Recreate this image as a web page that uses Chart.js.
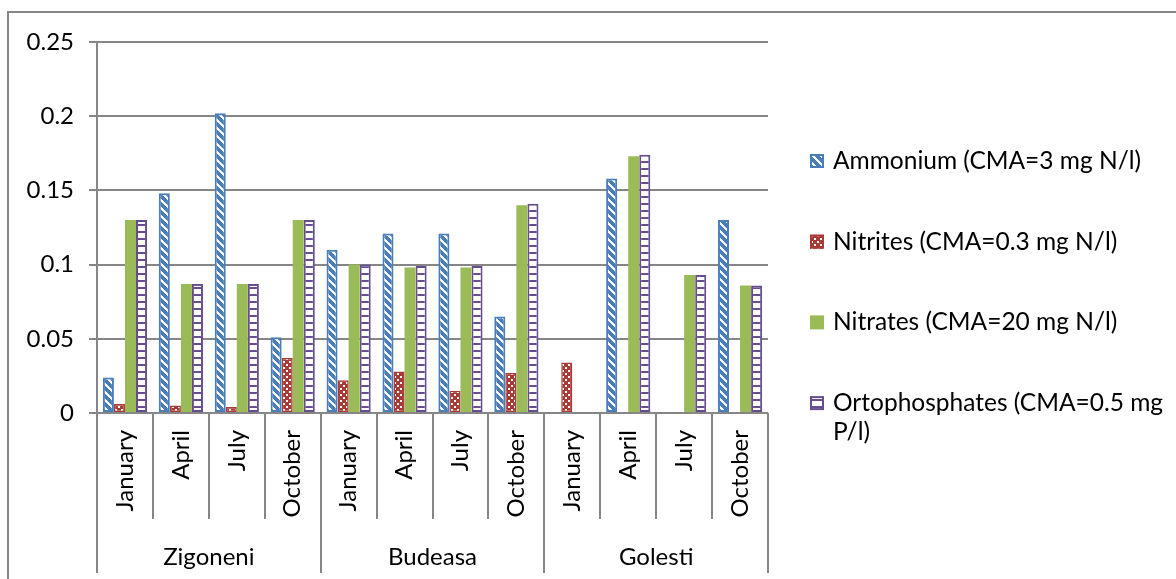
<!DOCTYPE html>
<html>
<head>
<meta charset="utf-8">
<script src="https://cdn.jsdelivr.net/npm/chart.js@4/dist/chart.umd.min.js"></script>
<style>
  html, body { margin: 0; padding: 0; background: #fff; }
  #wrap { width: 1176px; height: 579px; position: relative; }
</style>
</head>
<body>
<div id="wrap"><canvas id="c" width="1176" height="579"></canvas></div>
<script>
// Sampling months, repeated for each station
const months = ['January', 'April', 'July', 'October',
                'January', 'April', 'July', 'October',
                'January', 'April', 'July', 'October'];
const stations = ['Zigoneni', 'Budeasa', 'Golesti'];
const monthsPerStation = 4;

// Concentrations (mg/l); null = not detected
const ammonium = [0.024, 0.148, 0.202, 0.051, 0.110, 0.121, 0.121, 0.065, null, 0.158, null, 0.130];
const nitrites = [0.006, 0.005, 0.004, 0.037, 0.022, 0.028, 0.015, 0.027, 0.034, null, null, null];
const nitrates = [0.130, 0.087, 0.087, 0.130, 0.100, 0.098, 0.098, 0.140, null, 0.173, 0.093, 0.086];
const ortho    = [0.130, 0.087, 0.087, 0.130, 0.100, 0.099, 0.099, 0.141, null, 0.174, 0.093, 0.086];

const yTicks = ['0', '0.05', '0.1', '0.15', '0.2', '0.25'];

const legendLines = [
  ['Ammonium (CMA=3 mg N/l)'],
  ['Nitrites (CMA=0.3 mg N/l)'],
  ['Nitrates (CMA=20 mg N/l)'],
  ['Ortophosphates (CMA=0.5 mg', 'P/l)']
];

const FONT = 'Lato, "Open Sans", sans-serif';
const GRID = '#868686';
const BLUE = '#4A7EBB', RED = '#A93A36', GREEN = '#9BBB59', PURPLE = '#684C91';

// Pixel-tile fill patterns
function makePattern(w, h, fg, test) {
  const c = document.createElement('canvas');
  c.width = w; c.height = h;
  const g = c.getContext('2d');
  g.fillStyle = '#fff';
  g.fillRect(0, 0, w, h);
  g.fillStyle = fg;
  for (let y = 0; y < h; y++)
    for (let x = 0; x < w; x++)
      if (test(x, y)) g.fillRect(x, y, 1, 1);
  return g.createPattern(c, 'repeat');
}
const ctx = document.getElementById('c').getContext('2d');
const patAmmonium = makePattern(8, 8, BLUE, (x, y) => ((x - y + 16) % 8) > 2);
const patNitrites = makePattern(6, 6, RED, (x, y) => !((x >= 1 && x <= 2 && y >= 1 && y <= 2) || (x >= 4 && x <= 5 && y >= 4 && y <= 5)));
const patOrtho = makePattern(4, 7, PURPLE, (x, y) => y < 2);

const datasets = [
  { label: legendLines[0].join(' '), data: ammonium, backgroundColor: patAmmonium, borderColor: BLUE, borderWidth: 2, legendFill: patAmmonium },
  { label: legendLines[1].join(' '), data: nitrites, backgroundColor: patNitrites, borderColor: RED, borderWidth: 1.5, legendFill: patNitrites },
  { label: legendLines[2].join(' '), data: nitrates, backgroundColor: GREEN, borderColor: GREEN, borderWidth: 0, legendFill: GREEN },
  { label: legendLines[3].join(' '), data: ortho, backgroundColor: patOrtho, borderColor: PURPLE, borderWidth: 2, legendFill: patOrtho }
];
datasets.forEach(d => { d.borderSkipped = false; d.categoryPercentage = 0.79; d.barPercentage = 1.0; });

// Outer frame, station brackets under the axis, and the side legend
const decorations = {
  id: 'decorations',
  beforeDraw(chart) {
    const c = chart.ctx;
    c.save();
    c.fillStyle = '#fff';
    c.fillRect(0, 0, chart.width, chart.height);
    c.strokeStyle = GRID;
    c.lineWidth = 2;
    c.beginPath();
    c.moveTo(8, chart.height + 5);
    c.lineTo(8, 12);
    c.lineTo(chart.width + 5, 12);
    c.stroke();
    c.restore();
  },
  afterDraw(chart) {
    const c = chart.ctx;
    const xs = chart.scales.x;
    const area = chart.chartArea;
    const step = xs.getPixelForValue(1) - xs.getPixelForValue(0);
    const base = area.bottom;
    c.save();
    c.strokeStyle = GRID;
    c.lineWidth = 2;
    for (let i = 0; i <= months.length; i++) {
      const x = Math.round(xs.getPixelForValue(i) - step / 2);
      const isGroupEdge = i % monthsPerStation === 0;
      c.beginPath();
      c.moveTo(x, base);
      c.lineTo(x, isGroupEdge ? base + 160 : base + 106);
      c.stroke();
    }
    c.fillStyle = '#000';
    c.font = '24px ' + FONT;
    c.textAlign = 'center';
    c.textBaseline = 'middle';
    stations.forEach((s, k) => {
      const x0 = xs.getPixelForValue(k * monthsPerStation) - step / 2;
      const x1 = xs.getPixelForValue((k + 1) * monthsPerStation - 1) + step / 2;
      c.fillText(s, (x0 + x1) / 2, base + 144);
    });

    // legend
    c.textAlign = 'left';
    c.font = '24.5px ' + FONT;
    chart.data.datasets.forEach((ds, i) => {
      const yc = 161 + i * 80.7;
      const bx = 810, bs = 14;
      c.fillStyle = ds.legendFill;
      c.fillRect(bx, yc - bs / 2, bs, bs);
      if (ds.borderWidth) {
        c.strokeStyle = ds.borderColor;
        c.lineWidth = 2;
        c.strokeRect(bx + 1, yc - bs / 2 + 1, bs - 2, bs - 2);
      }
      c.fillStyle = '#000';
      legendLines[i].forEach((line, j) => c.fillText(line, 833, yc + j * 29));
    });
    c.restore();
  }
};

new Chart(ctx, {
  type: 'bar',
  data: { labels: months, datasets },
  options: {
    responsive: false,
    animation: false,
    layout: { padding: { top: 42, right: 408, left: 0, bottom: 0 } },
    plugins: { legend: { display: false }, tooltip: { enabled: false } },
    scales: {
      x: {
        grid: { display: false, drawTicks: false },
        border: { display: false },
        ticks: {
          color: '#000',
          font: { family: FONT, size: 24 },
          minRotation: 90, maxRotation: 90,
          autoSkip: false,
          padding: 17
        },
        afterFit(scale) { scale.height = 166; }
      },
      y: {
        min: 0, max: 0.25,
        ticks: {
          stepSize: 0.05,
          color: '#000',
          font: { family: FONT, size: 24 },
          padding: 15,
          callback: (v, i) => yTicks[i]
        },
        grid: { color: GRID, lineWidth: 2, tickLength: 8 },
        border: { display: true, color: GRID, width: 2 },
        afterFit(scale) { scale.width = 97; }
      }
    }
  },
  plugins: [decorations]
});
</script>
</body>
</html>
